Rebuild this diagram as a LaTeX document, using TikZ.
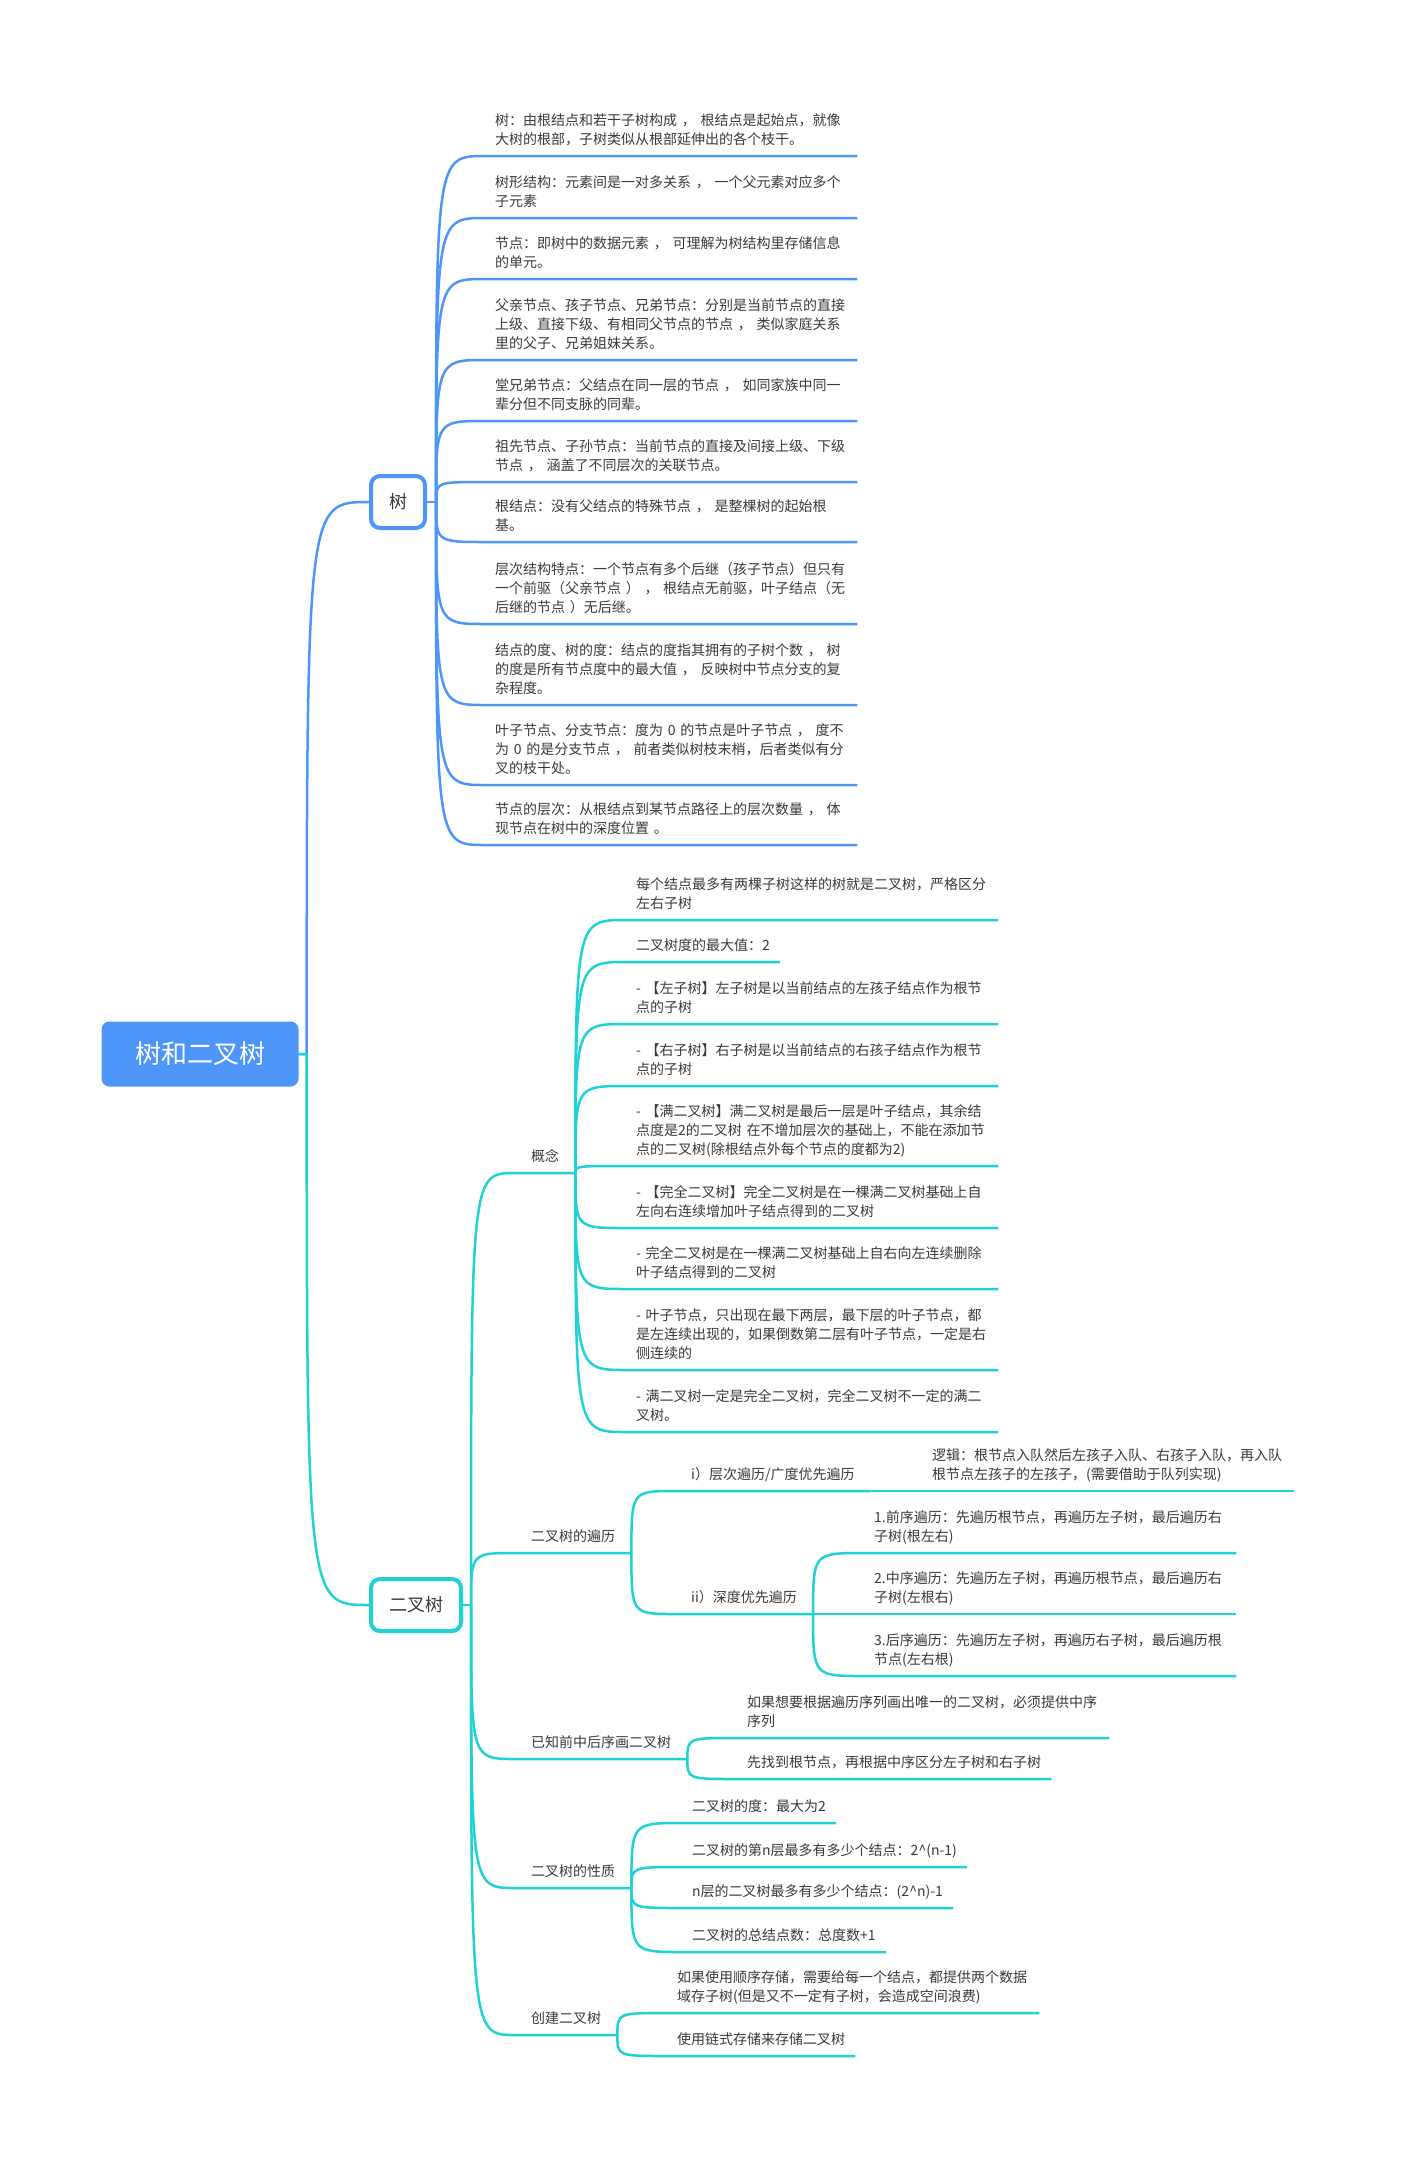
\documentclass[tikz,border=0pt]{standalone}
\usepackage{fontspec}
\setmainfont{Noto Sans CJK SC}
\usetikzlibrary{positioning}
\definecolor{mapblue}{HTML}{4E95FA}
\definecolor{mapcyan}{HTML}{1FD2D4}
\definecolor{inkgray}{HTML}{3A3A3A}

\begin{document}
\begin{tikzpicture}[
  x=1pt, y=-1pt,
  rootbox/.style={
    fill=mapblue, rounded corners=8pt, minimum width=197pt, minimum height=65pt,
    text=white, font=\fontsize{26}{30}\selectfont
  },
  topicbox/.style={
    draw=#1, line width=4pt, fill=white, rounded corners=9pt,
    minimum height=52pt, inner xsep=18pt, text=inkgray,
    font=\fontsize{18}{22}\selectfont
  },
  subtopic/.style={
    anchor=south west, inner xsep=16pt, inner ysep=5.5pt, text=inkgray,
    font=\fontsize{14}{19}\selectfont, execute at end node=\strut
  },
  leaf/.style={
    anchor=south west, inner xsep=10pt, inner ysep=5.5pt, align=left,
    text=inkgray, font=\fontsize{14}{19}\selectfont, execute at end node=\strut
  },
  wide/.style={text width=352pt},
  bline/.style={draw=mapblue, line width=2.5pt},
  cline/.style={draw=mapcyan, line width=2.5pt},
  curvy/.style={to path={.. controls (\tikztostart |- \tikztotarget) .. (\tikztotarget)}},
]

% Background
\useasboundingbox (0,0) rectangle (1401,2165);
\fill[white] (0,0) rectangle (1401,2165);

% =============================================
% Centre topic and the two main branches
% =============================================
\node[rootbox] (root) at (200,1054) {树和二叉树};
\coordinate (rootJ) at ([xshift=8pt]root.east);

\node[topicbox=mapblue] (shu) at (398,502) {树};
\coordinate (shuJ) at ([xshift=9pt]shu.east);

\node[topicbox=mapcyan] (bt) at (416,1605) {二叉树};
\coordinate (btJ) at ([xshift=8pt]bt.east);

\draw[bline] (root.east) -- (rootJ) to[curvy] (shu.west);
\draw[cline] (root.east) -- (rootJ) to[curvy] (bt.west);
\draw[bline] (shu.east) -- (shuJ);
\draw[cline] (bt.east) -- (btJ);

% =============================================
% Branch: 树
% =============================================
\node[leaf, wide] (t1) at (485,156)
  {树：由根结点和若干子树构成 ， 根结点是起始点，就像\\大树的根部，子树类似从根部延伸出的各个枝干。};
\node[leaf, wide] (t2) at (485,218)
  {树形结构：元素间是一对多关系 ， 一个父元素对应多个\\子元素};
\node[leaf, wide] (t3) at (485,279)
  {节点：即树中的数据元素 ， 可理解为树结构里存储信息\\的单元。};
\node[leaf, wide] (t4) at (485,360)
  {父亲节点、孩子节点、兄弟节点：分别是当前节点的直接\\上级、直接下级、有相同父节点的节点 ， 类似家庭关系\\里的父子、兄弟姐妹关系。};
\node[leaf, wide] (t5) at (485,421)
  {堂兄弟节点：父结点在同一层的节点 ， 如同家族中同一\\辈分但不同支脉的同辈。};
\node[leaf, wide] (t6) at (485,482)
  {祖先节点、子孙节点：当前节点的直接及间接上级、下级\\节点 ， 涵盖了不同层次的关联节点。};
\node[leaf, wide] (t7) at (485,542)
  {根结点：没有父结点的特殊节点 ， 是整棵树的起始根\\基。};
\node[leaf, wide] (t8) at (485,624)
  {层次结构特点：一个节点有多个后继（孩子节点）但只有\\一个前驱（父亲节点 ） ， 根结点无前驱，叶子结点（无\\后继的节点 ）无后继。};
\node[leaf, wide] (t9) at (485,705)
  {结点的度、树的度：结点的度指其拥有的子树个数 ， 树\\的度是所有节点度中的最大值 ， 反映树中节点分支的复\\杂程度。};
\node[leaf, wide] (t10) at (485,785)
  {叶子节点、分支节点：度为 0 的节点是叶子节点 ， 度不\\为 0 的是分支节点 ， 前者类似树枝末梢，后者类似有分\\叉的枝干处。};
\node[leaf, wide] (t11) at (485,845)
  {节点的层次：从根结点到某节点路径上的层次数量 ， 体\\现节点在树中的深度位置 。};

\draw[bline] (shuJ) to[curvy] (t1.south west) -- (t1.south east);
\draw[bline] (shuJ) to[curvy] (t2.south west) -- (t2.south east);
\draw[bline] (shuJ) to[curvy] (t3.south west) -- (t3.south east);
\draw[bline] (shuJ) to[curvy] (t4.south west) -- (t4.south east);
\draw[bline] (shuJ) to[curvy] (t5.south west) -- (t5.south east);
\draw[bline] (shuJ) to[curvy] (t6.south west) -- (t6.south east);
\draw[bline] (shuJ) to[curvy] (t7.south west) -- (t7.south east);
\draw[bline] (shuJ) to[curvy] (t8.south west) -- (t8.south east);
\draw[bline] (shuJ) to[curvy] (t9.south west) -- (t9.south east);
\draw[bline] (shuJ) to[curvy] (t10.south west) -- (t10.south east);
\draw[bline] (shuJ) to[curvy] (t11.south west) -- (t11.south east);

% =============================================
% Branch: 二叉树 -- sub topics
% =============================================
\node[subtopic] (gn) at (515,1173) {概念};
\node[subtopic] (bl) at (515,1553) {二叉树的遍历};
\node[subtopic] (yz) at (515,1759) {已知前中后序画二叉树};
\node[subtopic] (xz) at (515,1888) {二叉树的性质};
\node[subtopic] (cj) at (515,2035) {创建二叉树};

\draw[cline] (btJ) to[curvy] (gn.south west) -- (gn.south east);
\draw[cline] (btJ) to[curvy] (bl.south west) -- (bl.south east);
\draw[cline] (btJ) to[curvy] (yz.south west) -- (yz.south east);
\draw[cline] (btJ) to[curvy] (xz.south west) -- (xz.south east);
\draw[cline] (btJ) to[curvy] (cj.south west) -- (cj.south east);

% 概念
\node[leaf, wide] (g1) at (626,920)
  {每个结点最多有两棵子树这样的树就是二叉树，严格区分\\左右子树};
\node[leaf] (g2) at (626,962) {二叉树度的最大值：2};
\node[leaf, wide] (g3) at (626,1024)
  {- 【左子树】左子树是以当前结点的左孩子结点作为根节\\点的子树};
\node[leaf, wide] (g4) at (626,1086)
  {- 【右子树】右子树是以当前结点的右孩子结点作为根节\\点的子树};
\node[leaf, wide] (g5) at (626,1166)
  {- 【满二叉树】满二叉树是最后一层是叶子结点，其余结\\点度是2的二叉树 在不增加层次的基础上，不能在添加节\\点的二叉树(除根结点外每个节点的度都为2)};
\node[leaf, wide] (g6) at (626,1228)
  {- 【完全二叉树】完全二叉树是在一棵满二叉树基础上自\\左向右连续增加叶子结点得到的二叉树};
\node[leaf, wide] (g7) at (626,1289)
  {- 完全二叉树是在一棵满二叉树基础上自右向左连续删除\\叶子结点得到的二叉树};
\node[leaf, wide] (g8) at (626,1370)
  {- 叶子节点，只出现在最下两层，最下层的叶子节点，都\\是左连续出现的，如果倒数第二层有叶子节点，一定是右\\侧连续的};
\node[leaf, wide] (g9) at (626,1432)
  {- 满二叉树一定是完全二叉树，完全二叉树不一定的满二\\叉树。};

\draw[cline] (gn.south east) to[curvy] (g1.south west) -- (g1.south east);
\draw[cline] (gn.south east) to[curvy] (g2.south west) -- (g2.south east);
\draw[cline] (gn.south east) to[curvy] (g3.south west) -- (g3.south east);
\draw[cline] (gn.south east) to[curvy] (g4.south west) -- (g4.south east);
\draw[cline] (gn.south east) to[curvy] (g5.south west) -- (g5.south east);
\draw[cline] (gn.south east) to[curvy] (g6.south west) -- (g6.south east);
\draw[cline] (gn.south east) to[curvy] (g7.south west) -- (g7.south east);
\draw[cline] (gn.south east) to[curvy] (g8.south west) -- (g8.south east);
\draw[cline] (gn.south east) to[curvy] (g9.south west) -- (g9.south east);

% 二叉树的遍历
\node[subtopic] (ceng) at (675,1491) {i）层次遍历/广度优先遍历};
\node[leaf, wide] (lj) at (922,1491)
  {逻辑：根节点入队然后左孩子入队、右孩子入队，再入队\\根节点左孩子的左孩子，(需要借助于队列实现)};
\node[subtopic] (sd) at (675,1614) {ii）深度优先遍历};
\node[leaf, wide] (qx) at (864,1553)
  {1.前序遍历：先遍历根节点，再遍历左子树，最后遍历右\\子树(根左右)};
\node[leaf, wide] (zx) at (864,1614)
  {2.中序遍历：先遍历左子树，再遍历根节点，最后遍历右\\子树(左根右)};
\node[leaf, wide] (hx) at (864,1676)
  {3.后序遍历：先遍历左子树，再遍历右子树，最后遍历根\\节点(左右根)};

\draw[cline] (bl.south east) to[curvy] (ceng.south west) -- (ceng.south east);
\draw[cline] (bl.south east) to[curvy] (sd.south west) -- (sd.south east);
\draw[cline] (ceng.south east) to[curvy] (lj.south west) -- (lj.south east);
\draw[cline] (sd.south east) to[curvy] (qx.south west) -- (qx.south east);
\draw[cline] (sd.south east) to[curvy] (zx.south west) -- (zx.south east);
\draw[cline] (sd.south east) to[curvy] (hx.south west) -- (hx.south east);

% 已知前中后序画二叉树
\node[leaf, wide] (y1) at (737,1738)
  {如果想要根据遍历序列画出唯一的二叉树，必须提供中序\\序列};
\node[leaf] (y2) at (737,1779) {先找到根节点，再根据中序区分左子树和右子树};

\draw[cline] (yz.south east) to[curvy] (y1.south west) -- (y1.south east);
\draw[cline] (yz.south east) to[curvy] (y2.south west) -- (y2.south east);

% 二叉树的性质
\node[leaf] (x1) at (682,1823) {二叉树的度：最大为2};
\node[leaf] (x2) at (682,1867) {二叉树的第n层最多有多少个结点：2\textasciicircum(n-1)};
\node[leaf] (x3) at (682,1908) {n层的二叉树最多有多少个结点：(2\textasciicircum n)-1};
\node[leaf] (x4) at (682,1952) {二叉树的总结点数：总度数+1};

\draw[cline] (xz.south east) to[curvy] (x1.south west) -- (x1.south east);
\draw[cline] (xz.south east) to[curvy] (x2.south west) -- (x2.south east);
\draw[cline] (xz.south east) to[curvy] (x3.south west) -- (x3.south east);
\draw[cline] (xz.south east) to[curvy] (x4.south west) -- (x4.south east);

% 创建二叉树
\node[leaf, wide] (c1) at (667,2013)
  {如果使用顺序存储，需要给每一个结点，都提供两个数据\\域存子树(但是又不一定有子树，会造成空间浪费)};
\node[leaf] (c2) at (667,2056) {使用链式存储来存储二叉树};

\draw[cline] (cj.south east) to[curvy] (c1.south west) -- (c1.south east);
\draw[cline] (cj.south east) to[curvy] (c2.south west) -- (c2.south east);

\end{tikzpicture}
\end{document}
